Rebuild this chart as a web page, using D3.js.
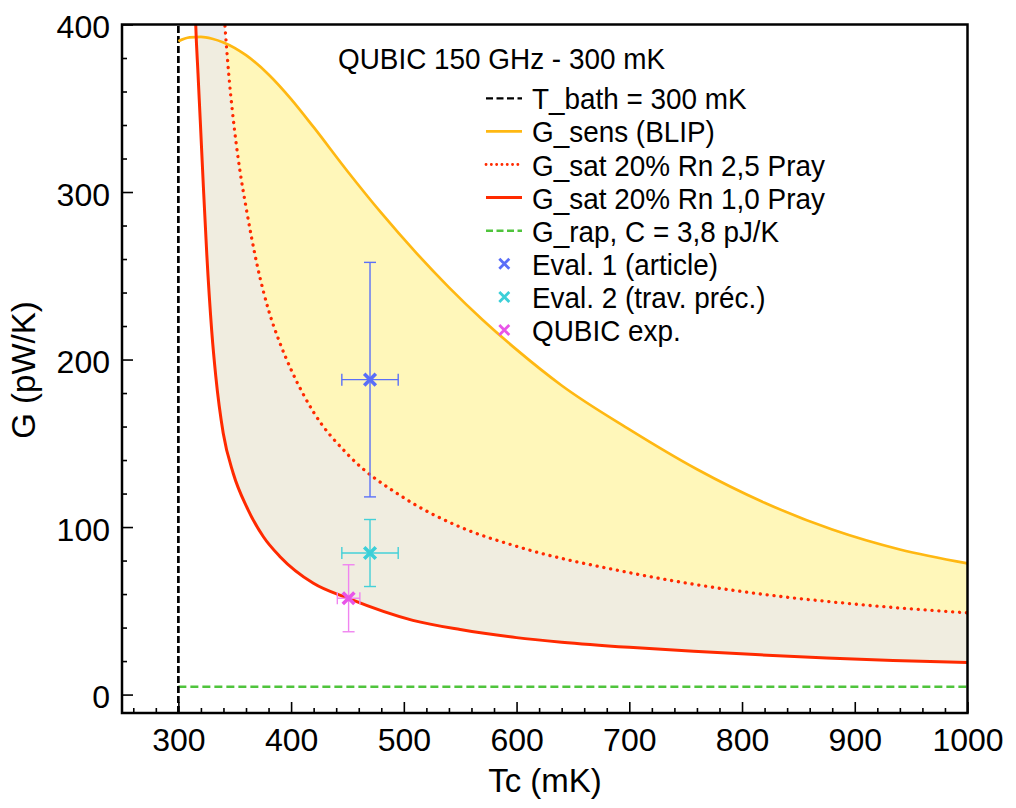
<!DOCTYPE html>
<html><head><meta charset="utf-8">
<script src="https://cdn.jsdelivr.net/npm/d3@7"></script>
<style>
body{margin:0;background:#fff}
svg{display:block}
text{font-family:"Liberation Sans",Arial,Helvetica,sans-serif;fill:#000}
</style>
</head><body>
<svg id="c" width="1016" height="808"></svg>
<script>
// ---- data ----
const sensTc = [300,310,320,330,340,360,380,400,420,450,480,510,540,570,600,640,700,760,820,880,940,1000];
const sensG  = [390,392.3,392.6,391.5,389.3,381.7,370.2,355.5,338.7,312.4,287.5,264.4,243.1,223.6,205.9,184.5,158.3,134.5,114.5,98.5,86.6,78.3];

const sat25Tc = [338,340,342,345,350,355,360,370,380,390,400,420,450,500,550,600,700,800,900,1000];
const sat25G  = [432,412,393,368,336,311,291,256,229.5,210,194,168.5,143.5,117.5,100,88.5,72.8,61.5,54,48.8];

const sat10Tc = [314.2,315.4,317.4,319.4,322.2,325.2,329.6,333.2,339.8,348.7,360.6,375.4,390.2,419.8,450.8,508,550,600,640,700,757,816,875,934,1000];
const sat10G  = [430,400,371,343,303,263,217,190,156,132,112,94.2,82.3,66.4,57.4,44.3,38.8,34.0,31.3,28.2,25.8,23.7,21.9,20.4,19.2];

const tBath = 300;     // mK
const gRap = 4.7;      // pW/K

const ptLabels = ["Eval. 1 (article)", "Eval. 2 (trav. préc.)", "QUBIC exp."];
const ptTc   = [470, 470, 451];
const ptTcErr= [25, 25, 10];
const ptG    = [188, 84.5, 57.5];
const ptGErr = [70, 20, 20];

const xTicks = [300,400,500,600,700,800,900,1000];
const yTicks = [0,100,200,300,400];

const titleText = "QUBIC 150 GHz - 300 mK";
const legendLabels = ["T_bath = 300 mK","G_sens (BLIP)","G_sat 20% Rn 2,5 Pray","G_sat 20% Rn 1,0 Pray","G_rap, C = 3,8 pJ/K"];

// ---- drawing ----
const svg = d3.select('#c');
const L = 122, R = 967.5, T = 24.5, B = 713;
const x = d3.scaleLinear().domain([250,1000]).range([L,R]);
const y = d3.scaleLinear().domain([-11,400]).range([B,T]);
const line = d3.line().x(d=>x(d[0])).y(d=>y(d[1])).curve(d3.curveMonotoneX);
const zip = (a,b)=>a.map((v,i)=>[v,b[i]]);
const sens = zip(sensTc,sensG), sat25 = zip(sat25Tc,sat25G), sat10 = zip(sat10Tc,sat10G);

const cOrange = '#ffb812', cRed = '#ff2a00', cGreen = '#4fc43c';
const ptColors = ['#5a6ef8','#3ccfd8','#e855e8'];
const barColors = ['#5b70f8','#44d0d8','#f084f0'];

const defs = svg.append('defs');
defs.append('clipPath').attr('id','plot').append('rect')
  .attr('x',L).attr('y',T).attr('width',R-L).attr('height',B-T);
defs.append('clipPath').attr('id','aboveSat10').append('path')
  .attr('d', line(sat10) + `L${x(1000)+10},${y(440)}Z`);
defs.append('clipPath').attr('id','underSens').append('path')
  .attr('d', line(sens) + `L${x(1000)+10},${y(-11)}L${x(300)},${y(-11)}Z`);
defs.append('clipPath').attr('id','overSens').append('path')
  .attr('d', line(sens) + `L${x(1000)+10},${y(450)}L${x(250)},${y(450)}L${x(250)},${y(-11)}L${x(300)},${y(-11)}Z`);

const plot = svg.append('g').attr('clip-path','url(#plot)');
const fills = plot.append('g').attr('clip-path','url(#aboveSat10)');
const underDotted = line(sat25) + `L${x(1000)+10},${y(-11)}L${x(250)},${y(-11)}L${x(250)},${y(sat25G[0])}Z`;
fills.append('path')
  .attr('d', line(sens) + `L${x(1000)},${y(-11)}L${x(300)},${y(-11)}Z`)
  .attr('fill','#fff7ba');
fills.append('g').attr('clip-path','url(#underSens)').append('path')
  .attr('d', underDotted).attr('fill','#f0ede0');
fills.append('g').attr('clip-path','url(#overSens)').append('path')
  .attr('d', underDotted).attr('fill','#ededed');

// reference lines
plot.append('line').attr('x1',x(tBath)).attr('x2',x(1000)).attr('y1',y(gRap)).attr('y2',y(gRap))
  .attr('stroke',cGreen).attr('stroke-width',2.6).attr('stroke-dasharray','8,4');
plot.append('line').attr('x1',x(tBath)).attr('x2',x(tBath)).attr('y1',y(-11)).attr('y2',y(400))
  .attr('stroke','#000').attr('stroke-width',2.7).attr('stroke-dasharray','7,3');

// curves
plot.append('path').attr('d',line(sens)).attr('fill','none').attr('stroke',cOrange).attr('stroke-width',2.7);
plot.append('path').attr('d',line(sat25)).attr('fill','none').attr('stroke',cRed).attr('stroke-width',3.3)
  .attr('stroke-dasharray','0.1,6.8').attr('stroke-linecap','round');
plot.append('path').attr('d',line(sat10)).attr('fill','none').attr('stroke',cRed).attr('stroke-width',3);

// error bars + markers
const pts = svg.append('g');
ptTc.forEach((tc,i)=>{
  const g = pts.append('g').attr('fill','none');
  const cx = x(tc), cy = y(ptG[i]);
  const eb = g.append('g').attr('stroke',barColors[i]).attr('stroke-width',1.4);
  const yt = y(ptG[i]+ptGErr[i]), yb = y(ptG[i]-ptGErr[i]);
  const xl = x(tc-ptTcErr[i]), xr = x(tc+ptTcErr[i]);
  eb.append('line').attr('x1',cx).attr('x2',cx).attr('y1',yt).attr('y2',yb);
  eb.append('line').attr('x1',cx-6).attr('x2',cx+6).attr('y1',yt).attr('y2',yt);
  eb.append('line').attr('x1',cx-6).attr('x2',cx+6).attr('y1',yb).attr('y2',yb);
  eb.append('line').attr('x1',xl).attr('x2',xr).attr('y1',cy).attr('y2',cy);
  eb.append('line').attr('x1',xl).attr('x2',xl).attr('y1',cy-6).attr('y2',cy+6);
  eb.append('line').attr('x1',xr).attr('x2',xr).attr('y1',cy-6).attr('y2',cy+6);
  const s = 5.8;
  g.append('path').attr('d',`M${cx-s},${cy-s}L${cx+s},${cy+s}M${cx-s},${cy+s}L${cx+s},${cy-s}`)
    .attr('stroke',ptColors[i]).attr('stroke-width',3.6);
});

// axes (inward ticks)
const xMinor = d3.range(260,1000,20).filter(v=>v%100!==0);
const yMinor = d3.range(20,400,20).filter(v=>v%100!==0);
const ax = svg.append('g').attr('transform',`translate(0,${B})`);
ax.call(d3.axisBottom(x).tickValues(xTicks).tickSize(-11).tickPadding(15).tickFormat(d3.format('d')));
ax.append('g').call(d3.axisBottom(x).tickValues(xMinor).tickSize(-5).tickFormat(''));
const ay = svg.append('g').attr('transform',`translate(${L},0)`);
ay.call(d3.axisLeft(y).tickValues(yTicks).tickSize(-11).tickPadding(12).tickFormat(d3.format('d')));
ay.append('g').call(d3.axisLeft(y).tickValues(yMinor).tickSize(-5).tickFormat(''));
svg.selectAll('.domain').remove();
svg.selectAll('.tick line').attr('stroke','#000').attr('stroke-width',1.6);
svg.selectAll('.tick text').attr('font-size',32).attr('font-family','"Liberation Sans",Arial,sans-serif').attr('fill','#000');
ay.selectAll('.tick text').attr('dy','0.41em');

// frame
svg.append('rect').attr('x',L).attr('y',T).attr('width',R-L).attr('height',B-T)
  .attr('fill','none').attr('stroke','#000').attr('stroke-width',2.5);

// axis titles
svg.append('text').attr('x',545).attr('y',792).attr('text-anchor','middle').attr('font-size',33).text('Tc (mK)');
svg.append('text').attr('transform','translate(35,370) rotate(-90)').attr('text-anchor','middle').attr('font-size',33).text('G (pW/K)');

// legend (slightly condensed lettering like the reference)
const condensed = (sel, px, py) => sel.attr('transform',`translate(${px},${py}) scale(0.93,1)`).attr('font-size',30);
condensed(svg.append('text').text(titleText), 338, 69);
const lg = svg.append('g');
const rowY = i => 98.3 + i*33.1;
const lx0 = 486, lx1 = 522, tx = 532;
const styles = [
  {stroke:'#000', w:2.2, dash:'7,3.5', cap:'butt'},
  {stroke:cOrange, w:2.6, dash:null, cap:'butt'},
  {stroke:cRed, w:2.8, dash:'0.1,5.2', cap:'round'},
  {stroke:cRed, w:3, dash:null, cap:'butt'},
  {stroke:cGreen, w:2.6, dash:'7,3.5', cap:'butt'}
];
legendLabels.forEach((lab,i)=>{
  const st = styles[i];
  const ln = lg.append('line').attr('x1',lx0).attr('x2',lx1).attr('y1',rowY(i)).attr('y2',rowY(i))
    .attr('stroke',st.stroke).attr('stroke-width',st.w).attr('stroke-linecap',st.cap);
  if (st.dash) ln.attr('stroke-dasharray',st.dash);
  condensed(lg.append('text').text(lab), tx, rowY(i)+11);
});
ptLabels.forEach((lab,j)=>{
  const i = j+5, cx = 504.3, cy = rowY(i), s = 5;
  lg.append('path').attr('d',`M${cx-s},${cy-s}L${cx+s},${cy+s}M${cx-s},${cy+s}L${cx+s},${cy-s}`)
    .attr('stroke',ptColors[j]).attr('stroke-width',2.8).attr('fill','none');
  condensed(lg.append('text').text(lab), tx, cy+11);
});
</script>
</body></html>
